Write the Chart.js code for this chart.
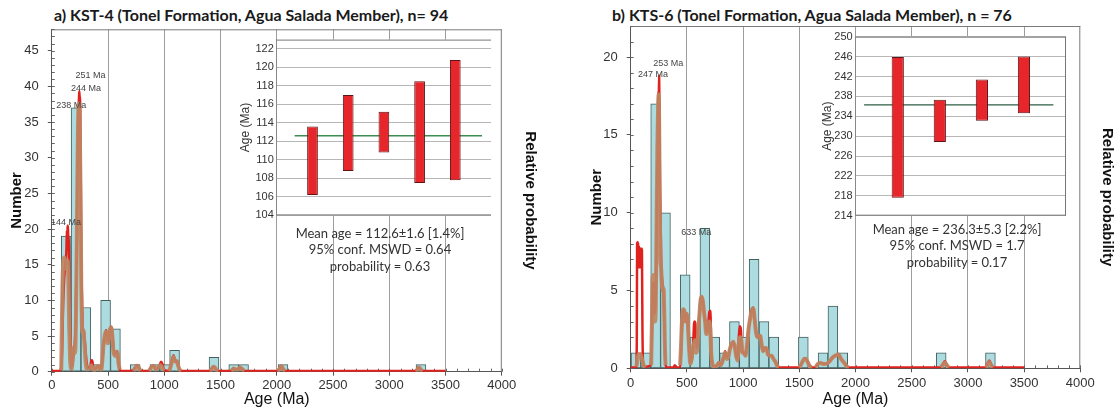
<!DOCTYPE html>
<html>
<head>
<meta charset="utf-8">
<script src="https://cdn.jsdelivr.net/npm/chart.js@4.4.1/dist/chart.umd.min.js"></script>
<style>
  html, body { margin: 0; padding: 0; background: #fff; }
  body { position: relative; width: 1119px; height: 411px; overflow: hidden; }
  canvas { position: absolute; }
  .ttl { position: absolute; top: 5px; font-family: Lato, 'Open Sans', sans-serif; font-weight: 700;
         font-size: 16px; line-height: 20px; color: #1a1a1a; white-space: nowrap; }
  .stats { position: absolute; font-family: Lato, 'Open Sans', sans-serif; font-size: 13px; line-height: 16.3px;
           color: #333; text-align: center; white-space: nowrap; transform: translateX(-50%); z-index: 5; }
</style>
</head>
<body>
<div class="ttl" id="titleA" style="left:54px"></div>
<div class="ttl" id="titleB" style="left:612px"></div>
<canvas id="mainA" width="555" height="411" style="left:0;top:0"></canvas>
<canvas id="mainB" width="559" height="411" style="left:560px;top:0"></canvas>
<canvas id="insetA" width="270" height="195" style="left:230px;top:30px"></canvas>
<canvas id="insetB" width="265" height="200" style="left:810px;top:26px"></canvas>
<div class="stats" id="statsA" style="left:380px;top:225px"></div>
<div class="stats" id="statsB" style="left:957px;top:221px"></div>

<script>
// ---------- shared axis ticks ----------
const ageTicks = [0, 500, 1000, 1500, 2000, 2500, 3000, 3500, 4000];
const numberTicksA = [0, 5, 10, 15, 20, 25, 30, 35, 40, 45];
const numberTicksB = [0, 5, 10, 15, 20];

// ---------- sample KST-4 ----------
const sampleA = 'KST-4';
const binCentersA = [127.8, 215.4, 303.0, 390.6, 478.2, 565.8, 741.0, 916.2, 1003.8, 1091.4, 1441.8, 1617.0, 1704.6, 2055.0, 3281.4];
const countsA     = [19, 37, 9, 1, 10, 6, 1, 1, 1, 3, 2, 1, 1, 1, 1];

// relative probability curve [age, value]
const redCurveA = [[0,0.1],[60,0.1],[80,0.3],[92,3],[100,9],[110,13],[120,15],[130,17],[134,19.8],[138,17],[141,20.3],[144,20.5],[147,18],[150,19],[156,13],[162,6],[168,2],[175,0.8],[185,1],[195,3],[205,4],[213,8],[220,15],[226,24],[232,33],[238,37],[241,38],[244,39.3],[248,38.4],[251,38.6],[254,34],[258,26],[262,17],[266,12],[270,9],[276,6],[284,5.8],[292,4.5],[300,3],[308,1.5],[318,0.6],[332,0.4],[344,0.9],[352,1.6],[360,1.5],[370,0.6],[385,0.4],[400,0.7],[415,0.8],[430,0.4],[442,0.5],[452,2],[462,4],[472,5],[482,5.8],[492,5.2],[502,4.2],[512,5.5],[522,6.2],[530,6.3],[540,5],[550,3],[560,2.4],[572,2.6],[582,2.9],[592,1.5],[602,0.4],[615,0.1],[700,0.1],[725,0.3],[745,0.7],[757,0.95],[770,0.7],[785,0.2],[800,0.1],[860,0.1],[878,0.5],[895,0.85],[910,0.8],[925,0.35],[942,0.5],[958,0.9],[971,1.4],[985,1.0],[998,0.3],[1040,0.1],[1058,0.9],[1072,1.8],[1082,2.3],[1092,1.8],[1102,1.4],[1112,1.5],[1124,0.9],[1138,0.2],[1160,0.1],[1400,0.1],[1418,0.3],[1432,0.7],[1448,0.6],[1465,0.2],[1482,0.1],[1590,0.1],[1605,0.3],[1615,0.5],[1632,0.3],[1652,0.3],[1672,0.65],[1690,0.4],[1710,0.1],[2000,0.1],[2018,0.3],[2038,0.85],[2055,0.4],[2075,0.1],[3230,0.1],[3248,0.3],[3262,0.65],[3280,0.3],[3300,0.1],[3500,0.1]];

// density estimate, one list per age cluster
const brownSegmentsA = [
  [[84,0.2],[88,5],[95,12],[103,15.5],[112,16],[122,15.2],[132,14.3],[140,15.6],[148,12.5],[155,6],[162,2],[170,0.5],[178,0.4],[186,2.5],[194,3.4],[202,2.6],[209,3],[216,9],[224,21],[231,32],[237,37],[242,37.6],[247,36.2],[252,30],[257,22],[262,12],[267,7],[273,5.5],[280,5.8],[287,4.6],[294,3],[301,1.2],[309,0.4],[320,0.2]],
  [[340,0.2],[352,0.9],[362,0.5],[378,0.2],[395,0.5],[410,0.8],[425,0.4],[440,0.3],[449,1.5],[458,3.5],[468,4.8],[478,5.6],[488,5.3],[498,4],[508,5.2],[518,6],[528,6.2],[538,5],[546,3.2],[554,2.4],[564,2.2],[574,2.8],[584,2.6],[594,1.1],[604,0.3]],
  [[725,0.1],[745,0.5],[757,0.85],[772,0.6],[788,0.1]],
  [[865,0.1],[880,0.5],[896,0.8],[910,0.75],[925,0.3],[942,0.5],[957,0.8],[968,0.9],[982,0.5],[998,0.15]],
  [[1045,0.1],[1058,0.8],[1070,1.6],[1080,2.1],[1090,1.7],[1100,1.4],[1110,1.5],[1122,0.9],[1136,0.3],[1150,0.1]],
  [[1405,0.1],[1420,0.3],[1435,0.7],[1450,0.6],[1466,0.2],[1480,0.1]],
  [[1595,0.1],[1608,0.3],[1618,0.45],[1633,0.3],[1653,0.3],[1673,0.6],[1690,0.4],[1710,0.1]],
  [[2005,0.1],[2022,0.3],[2040,0.8],[2056,0.4],[2073,0.1]],
  [[3235,0.1],[3250,0.3],[3264,0.6],[3280,0.3],[3296,0.1]]
];

// labelled peaks [age (Ma), curve value]
const peaksA = [[251, 38.6], [244, 39.3], [238, 37.0], [144, 20.5]];

// weighted mean of the youngest grains
const youngLoA = [106.2, 108.8, 110.8, 107.5, 107.8];
const youngHiA = [113.6, 117.0, 115.2, 118.5, 120.8];
const insetTicksA = [104, 106, 108, 110, 112, 114, 116, 118, 120, 122];
const meanA = 112.6, meanErrA = 1.6, meanPctA = 1.4, mswdA = 0.64, probA = 0.63;

// ---------- sample KTS-6 ----------
const sampleB = 'KTS-6';
const binCentersB = [46.8, 134.4, 222.0, 309.6, 484.8, 572.4, 660.0, 747.6, 835.2, 922.8, 1010.4, 1098.0, 1185.6, 1273.2, 1536.0, 1711.2, 1798.8, 1886.4, 2762.4, 3200.4];
const countsB     = [1, 1, 17, 10, 6, 2, 9, 2, 1, 3, 2, 7, 3, 2, 2, 1, 4, 1, 1, 1];

const redCurveB = [[0,0.05],[48,0.05],[54,1.5],[57,8.0],[60,8.1],[63,6.5],[66,8.1],[69,6.5],[72,7.9],[75,6.5],[78,7.7],[81,6.5],[84,7.7],[87,6.5],[90,7.7],[93,6.5],[96,7.7],[100,7.6],[104,3],[110,0.3],[125,0.1],[178,0.2],[188,2],[196,5],[204,5.5],[212,3.5],[220,4],[228,7],[236,12],[242,16],[247,17.8],[250,17.4],[253,18.8],[256,16.5],[260,12],[265,10],[271,7],[278,5.8],[288,5.2],[296,4],[302,2],[308,0.4],[320,0.05],[380,0.05],[392,0.2],[404,0.05],[440,0.05],[449,1.2],[458,3],[467,3.8],[477,3.7],[487,3.0],[496,3.5],[506,3.2],[515,1.8],[524,0.8],[534,0.4],[546,0.7],[556,1.6],[563,2.8],[569,3.0],[575,2.9],[582,1.6],[592,1.3],[602,2.5],[612,3.5],[622,4.4],[633,4.6],[643,4.3],[653,3.6],[663,3.0],[673,2.3],[683,2.4],[692,3.0],[699,3.6],[705,3.7],[711,3.3],[717,1.2],[726,0.3],[745,0.1],[770,0.2],[785,0.35],[800,0.2],[815,0.4],[830,0.8],[840,1.1],[852,0.7],[868,0.8],[885,1.3],[900,1.6],[913,1.7],[925,1.4],[938,0.8],[950,0.6],[960,1.8],[970,2.7],[980,2.5],[990,1.1],[1005,1.0],[1020,0.8],[1035,1.5],[1050,2.6],[1065,3.3],[1080,3.8],[1091,3.9],[1102,3.2],[1115,2.3],[1128,2.0],[1140,2.1],[1152,2.1],[1165,1.5],[1178,1.1],[1192,1.3],[1206,1.3],[1220,0.9],[1240,0.8],[1255,0.8],[1270,0.6],[1285,0.45],[1300,0.2],[1318,0.05],[1495,0.05],[1520,0.3],[1540,0.6],[1555,0.64],[1575,0.4],[1595,0.1],[1618,0.05],[1640,0.05],[1665,0.3],[1690,0.35],[1720,0.3],[1745,0.3],[1770,0.45],[1795,0.7],[1818,0.8],[1847,0.9],[1877,0.55],[1905,0.3],[1925,0.1],[1945,0.05],[2750,0.05],[2775,0.25],[2795,0.45],[2815,0.2],[2835,0.05],[3155,0.05],[3175,0.3],[3190,0.5],[3208,0.25],[3228,0.05],[3500,0.05]];

const brownSegmentsB = [
  [[50,0.1],[60,0.5],[70,0.9],[85,0.9],[100,0.6],[115,0.2],[128,0.05]],
  [[182,0.2],[189,3],[195,5.8],[202,6],[209,4.5],[216,3],[223,4],[230,9],[237,14],[243,16.5],[249,17.6],[254,15],[259,10],[264,7],[270,6.5],[277,5.5],[285,5],[293,5.1],[299,3.5],[304,1.5],[310,0.2]],
  [[440,0.2],[448,1.5],[456,3],[466,3.8],[476,3.7],[486,3.0],[496,3.5],[505,3.3],[514,2],[522,1],[530,0.3],[540,0.5],[552,1.2],[560,1.5],[572,1.8],[582,1.0],[592,1.2],[602,2.5],[612,3.5],[622,4.4],[632,4.6],[642,4.3],[652,3.6],[662,3.0],[672,2.2],[682,2.3],[692,2.8],[700,3.0],[708,2.5],[716,1],[726,0.3],[740,0.1],[770,0.2],[785,0.35],[800,0.2],[815,0.4],[830,0.8],[842,1.0],[855,0.6],[870,0.8],[885,1.3],[900,1.6],[913,1.7],[925,1.4],[938,0.8],[950,0.5],[962,1.6],[972,2.0],[985,1.8],[995,1.0],[1008,1.0],[1020,0.8],[1035,1.5],[1050,2.6],[1065,3.3],[1080,3.8],[1091,3.85],[1102,3.2],[1115,2.3],[1128,2.0],[1140,2.1],[1152,2.1],[1165,1.5],[1178,1.1],[1192,1.3],[1206,1.3],[1220,0.9],[1240,0.8],[1255,0.8],[1270,0.6],[1285,0.45],[1300,0.2],[1315,0.05]],
  [[1500,0.05],[1520,0.3],[1540,0.58],[1555,0.62],[1575,0.4],[1595,0.1],[1612,0.05]],
  [[1645,0.05],[1665,0.28],[1690,0.33],[1720,0.28],[1745,0.3],[1770,0.45],[1795,0.68],[1818,0.8],[1847,0.88],[1877,0.55],[1905,0.3],[1925,0.1],[1940,0.05]],
  [[2760,0.05],[2778,0.2],[2795,0.38],[2812,0.2],[2830,0.05]],
  [[3160,0.05],[3176,0.22],[3190,0.4],[3205,0.2],[3222,0.05]]
];

const peaksB = [[253, 18.8], [247, 17.8], [633, 4.6]];

const youngLoB = [217.6, 228.8, 233.1, 234.6];
const youngHiB = [245.9, 237.3, 241.4, 246.0];
const insetTicksB = [214, 218, 222, 226, 230, 234, 238, 242, 246, 250];
const meanB = 236.3, meanErrB = 5.3, meanPctB = 2.2, mswdB = 1.7, probB = 0.17;

// ---------- styling ----------
const FONT = "'Liberation Sans', Arial, sans-serif";
Chart.defaults.font.family = FONT;
const BAR_FILL = '#acdcdf', BAR_EDGE = '#43605f';
const RED = '#e0221f', BROWN = 'rgba(190,134,98,0.92)';

// pixel offsets of the peak captions relative to their peak
const captionOffsetsA = { 251: [10.5, -20.7], 244: [6.7, -2.6], 238: [-7.3, -2.3], 144: [-2, -2.5] };
const captionOffsetsB = { 253: [9.2, -11.8], 247: [-5.5, -16.8], 633: [-5.6, -64] };

// frame, minor ticks and peak captions for the histogram panels
const histDecor = {
  id: 'histDecor',
  beforeDatasetsDraw(chart) {
    const { ctx, chartArea: a, scales: { x, y } } = chart;
    ctx.save();
    ctx.lineWidth = 1;
    ctx.strokeStyle = '#7a7a7a';
    ctx.beginPath();
    ctx.moveTo(a.left, a.top + 0.5); ctx.lineTo(a.right, a.top + 0.5);
    ctx.moveTo(a.right - 0.5, a.top); ctx.lineTo(a.right - 0.5, a.bottom);
    ctx.stroke();
    ctx.strokeStyle = '#666';
    ctx.beginPath();
    for (let v = y.min; v <= y.max; v += 1) {
      const py = Math.round(y.getPixelForValue(v)) + 0.5;
      ctx.moveTo(a.left, py); ctx.lineTo(a.left + 3, py);
    }
    for (let v = x.min; v <= x.max; v += 100) {
      const px = Math.round(x.getPixelForValue(v)) + 0.5;
      ctx.moveTo(px, a.bottom); ctx.lineTo(px, a.bottom - 3);
    }
    ctx.stroke();
    ctx.restore();
  },
  afterDatasetsDraw(chart, args, opts) {
    const { ctx, scales: { x, y } } = chart;
    ctx.save();
    ctx.font = '9px ' + FONT;
    ctx.fillStyle = '#444';
    ctx.textAlign = 'center';
    ctx.textBaseline = 'middle';
    opts.peaks.forEach(([age, val]) => {
      const off = opts.offsets[age] || [0, -6];
      ctx.fillText(age + ' Ma', x.getPixelForValue(age) + off[0], y.getPixelForValue(val) + off[1]);
    });
    ctx.restore();
  }
};

function joinSegments(segs) {
  const out = [];
  segs.forEach((s, i) => {
    if (i > 0) out.push({ x: s[0][0] - 1, y: null });
    s.forEach(([a, v]) => out.push({ x: a, y: v }));
  });
  return out;
}

function buildHistogram(id, d) {
  return new Chart(document.getElementById(id), {
    type: 'bar',
    data: {
      datasets: [
        { type: 'bar', data: d.bins.map((c, i) => ({ x: c, y: d.counts[i] })),
          backgroundColor: BAR_FILL, borderColor: BAR_EDGE, borderWidth: 1, borderSkipped: false,
          barPercentage: 1, categoryPercentage: 1, order: 3 },
        { type: 'line', data: d.red.map(([a, v]) => ({ x: a, y: v })),
          borderColor: RED, borderWidth: 2.5, pointRadius: 0, fill: false,
          cubicInterpolationMode: 'monotone', order: 2 },
        { type: 'line', data: joinSegments(d.brown),
          borderColor: BROWN, borderWidth: 4, pointRadius: 0, fill: false, spanGaps: false,
          cubicInterpolationMode: 'monotone', order: 1 }
      ]
    },
    options: {
      responsive: false, animation: false, devicePixelRatio: 1,
      layout: { padding: { top: d.box.top, left: 0, right: 0, bottom: 0 } },
      plugins: {
        legend: { display: false }, tooltip: { enabled: false },
        histDecor: { peaks: d.peaks, offsets: d.offsets }
      },
      scales: {
        x: {
          type: 'linear', min: 0, max: 4000, offset: false,
          afterBuildTicks: s => { s.ticks = ageTicks.map(v => ({ value: v })); },
          afterFit: s => { s.height = d.box.xHeight; },
          grid: { offset: false,
                  color: c => (c.tick && (c.tick.value === 0 || c.tick.value === 4000)) ? 'rgba(0,0,0,0)' : '#9d9d9d',
                  lineWidth: 1, tickLength: 4, tickColor: '#555' },
          border: { color: '#555' },
          ticks: { font: { size: 13 }, color: '#333', padding: d.box.xTickPad, maxRotation: 0, autoSkip: false,
                   callback: v => String(v) },
          title: { display: true, text: 'Age (Ma)', font: { size: 16 }, color: '#111',
                   padding: { top: 0, bottom: d.box.xTitlePad } }
        },
        y: {
          type: 'linear', position: 'left', min: 0, max: d.yMax,
          afterBuildTicks: s => { s.ticks = d.yTicks.map(v => ({ value: v })); },
          afterFit: s => { s.width = d.box.yWidth; },
          grid: { drawOnChartArea: false, tickLength: 4, tickColor: '#555' },
          border: { color: '#555' },
          ticks: { font: { size: 13 }, color: '#333', padding: 9, callback: v => String(v) },
          title: { display: true, text: 'Number', font: { size: 15, weight: 'bold' }, color: '#111',
                   padding: { top: d.box.numPad, bottom: 0 } }
        },
        y2: {
          type: 'linear', position: 'right', min: 0, max: 1,
          afterFit: s => { s.width = d.box.y2Width; },
          ticks: { display: false }, grid: { display: false, drawTicks: false }, border: { display: false },
          title: { display: true, text: 'Relative probability', font: { size: 15, weight: 'bold' }, color: '#111',
                   padding: { top: d.box.relPad, bottom: 0 } }
        }
      }
    },
    plugins: [histDecor]
  });
}

// white plot field and frame for the weighted-mean insets
const insetDecor = {
  id: 'insetDecor',
  beforeDraw(chart) {
    const { ctx, chartArea: a } = chart;
    ctx.save();
    ctx.fillStyle = '#fff';
    ctx.fillRect(a.left, a.top, a.right - a.left, a.bottom - a.top);
    ctx.restore();
  },
  beforeDatasetsDraw(chart, args, opts) {
    const { ctx, chartArea: a } = chart;
    ctx.save();
    ctx.strokeStyle = '#777'; ctx.lineWidth = 1;
    ctx.beginPath();
    ctx.moveTo(a.left, a.top + 0.5); ctx.lineTo(a.right, a.top + 0.5);
    ctx.moveTo(a.left, a.bottom - 0.5); ctx.lineTo(a.right, a.bottom - 0.5);
    if (opts.right) { ctx.moveTo(a.right - 0.5, a.top); ctx.lineTo(a.right - 0.5, a.bottom); }
    ctx.stroke();
    ctx.restore();
  }
};

function buildInset(id, d) {
  return new Chart(document.getElementById(id), {
    type: 'bar',
    data: {
      datasets: [
        { type: 'bar', data: d.lo.map((lo, i) => ({ x: i + 1, y: [lo, d.hi[i]] })),
          backgroundColor: '#e6262b', borderColor: '#5e1414', borderWidth: 1, borderSkipped: false,
          barPercentage: d.barFrac, categoryPercentage: 1, order: 1 },
        { type: 'line', data: [{ x: d.lineFrom, y: d.mean }, { x: d.lineTo, y: d.mean }],
          borderColor: d.meanColor, borderWidth: d.meanWidth, pointRadius: 0, order: 2 }
      ]
    },
    options: {
      responsive: false, animation: false, devicePixelRatio: 1,
      layout: { padding: d.pad },
      plugins: { legend: { display: false }, tooltip: { enabled: false }, insetDecor: { right: d.rightEdge } },
      scales: {
        x: { type: 'linear', min: 0, max: d.xMax, display: false, offset: false, ticks: { stepSize: 1 } },
        y: {
          type: 'linear', min: d.yMin, max: d.yMax,
          afterBuildTicks: s => { s.ticks = d.ticks.map(v => ({ value: v })); },
          afterFit: s => { s.width = d.yWidth; },
          grid: { color: '#b7b7b7', drawTicks: false },
          border: { color: '#888' },
          ticks: { font: { size: 11 }, color: '#333', padding: 3 },
          title: { display: true, text: 'Age (Ma)', font: { size: 12 }, color: '#333',
                   padding: { top: d.titlePad, bottom: 0 } }
        }
      }
    },
    plugins: [insetDecor]
  });
}

const total = arr => arr.reduce((s, v) => s + v, 0);
document.getElementById('titleA').textContent = `a) ${sampleA} (Tonel Formation, Agua Salada Member), n= ${total(countsA)}`;
document.getElementById('titleB').textContent = `b) ${sampleB} (Tonel Formation, Agua Salada Member), n = ${total(countsB)}`;
const statsHtml = (m, e, p, w, pr) =>
  `Mean age = ${m.toFixed(1)}±${e.toFixed(1)} [${p.toFixed(1)}%]<br>95% conf. MSWD = ${w}<br>probability = ${pr}`;
document.getElementById('statsA').innerHTML = statsHtml(meanA, meanErrA, meanPctA, mswdA, probA);
document.getElementById('statsB').innerHTML = statsHtml(meanB, meanErrB, meanPctB, mswdB, probB);

buildHistogram('mainA', {
  bins: binCentersA, counts: countsA, red: redCurveA, brown: brownSegmentsA,
  yMax: 48, yTicks: numberTicksA, peaks: peaksA, offsets: captionOffsetsA,
  box: { top: 29.3, yWidth: 51.8, y2Width: 53.2, xHeight: 39.3, numPad: 7.9, relPad: 15.4, xTickPad: 1.6, xTitlePad: 1.4 }
});
buildHistogram('mainB', {
  bins: binCentersB, counts: countsB, red: redCurveB, brown: brownSegmentsB,
  yMax: 22, yTicks: numberTicksB, peaks: peaksB, offsets: captionOffsetsB,
  box: { top: 26, yWidth: 70.7, y2Width: 38.7, xHeight: 42.7, numPad: 27.4, relPad: 2.4, xTickPad: 3.2, xTitlePad: 2.1 }
});

buildInset('insetA', {
  lo: youngLoA, hi: youngHiA, mean: meanA, ticks: insetTicksA, yMin: 104, yMax: 123, xMax: 6,
  lineFrom: 0.5, lineTo: 5.75, meanColor: '#3d8c52', meanWidth: 1.5, barFrac: 0.3,
  pad: { top: 9.3, right: 9, bottom: 7.9, left: 0 }, yWidth: 46.8, titlePad: 8.2, rightEdge: false
});
buildInset('insetB', {
  lo: youngLoB, hi: youngHiB, mean: meanB, ticks: insetTicksB, yMin: 214, yMax: 250, xMax: 5,
  lineFrom: 0.2, lineTo: 4.7, meanColor: '#2e5e44', meanWidth: 1.2, barFrac: 0.29,
  pad: { top: 10.7, right: 9, bottom: 10.3, left: 0 }, yWidth: 45.7, titlePad: 10.5, rightEdge: true
});
</script>
</body>
</html>
